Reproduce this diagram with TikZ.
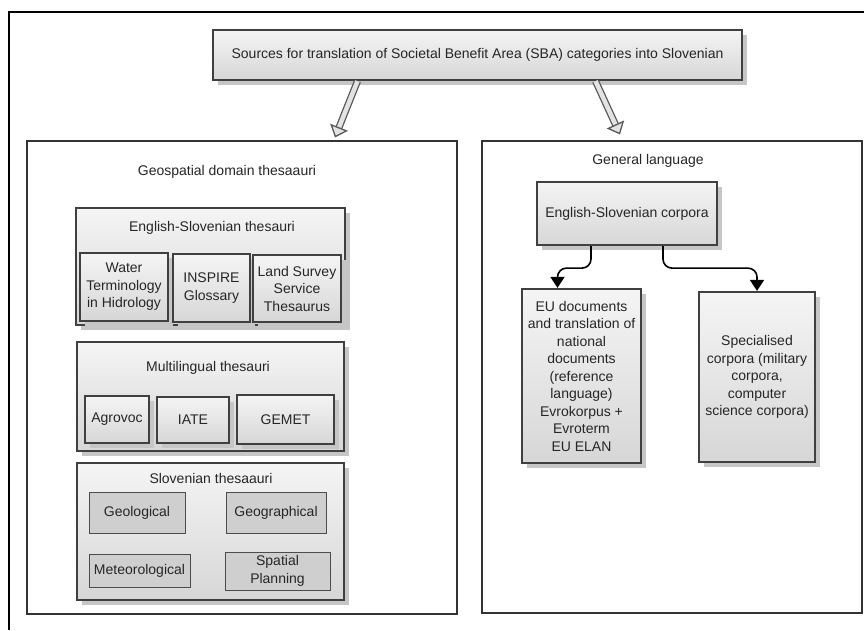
\documentclass[tikz,border=0pt]{standalone}
\usepackage{fontspec}
\setmainfont{Liberation Sans}
\usetikzlibrary{arrows.meta,shadows}
\begin{document}
\begin{tikzpicture}[x=1pt,y=-1pt,
  every node/.style={font=\fontsize{14}{17.5}\selectfont, text=black!85},
  panel/.style={draw=black!80, line width=1.1pt, fill=white},
  shadebox/.style={draw=black!75, line width=2.2pt, top color=gray!8, bottom color=gray!32,
    drop shadow={shadow xshift=5pt, shadow yshift=-5pt, fill=gray!45, opacity=1},
    align=center, inner sep=2pt},
  plainbox/.style={draw=black!70, line width=1pt, fill=gray!38, align=center, inner sep=2pt},
  hollow/.style={draw=black!65, line width=1.3pt, double=gray!22, double distance=4.5pt,
    -{Triangle[length=11pt,width=19pt,fill=gray!22]}},
  link/.style={draw=black, line width=1.6pt, rounded corners=9pt,
    -{Triangle[length=11pt,width=14pt]}}]
\useasboundingbox (0,0) rectangle (864,630);
% Rahmen
\draw[line width=2pt] (9,630) -- (9,12) -- (864,12);
% Panels
\node[panel, minimum width=430, minimum height=473] (geo) at (242,377.5) {};
\node[panel, minimum width=380, minimum height=472] (gen) at (672,377) {};
\node[shadebox, minimum width=529, minimum height=50] (title) at (477.5,55)
  {Sources for translation of Societal Benefit Area (SBA) categories into Slovenian};
% Pfeile
\draw[hollow] ([xshift=-120pt]title.south) -- ([xshift=93pt,yshift=3pt]geo.north);
\draw[hollow] ([xshift=118pt]title.south) -- ([xshift=-52pt,yshift=6pt]gen.north);
% Geospatial
\node (geohead) at (227,172) {Geospatial domain thesaauri};
\node[shadebox, minimum width=269, minimum height=117] (eng) at (210.5,266.5) {};
\node (enghead) at (212,228) {English-Slovenian thesauri};
\node[shadebox, minimum width=88, minimum height=68] (water) at (124,287) {Water\\Terminology\\in Hidrology};
\node[shadebox, minimum width=77, minimum height=68] (inspire) at (211.5,288) {INSPIRE\\Glossary};
\node[shadebox, minimum width=88, minimum height=67] (land) at (297,288.5) {Land Survey\\Service\\Thesaurus};
\node[shadebox, minimum width=267, minimum height=109] (multi) at (210.5,396.5) {};
\node (multihead) at (208,368) {Multilingual thesauri};
\node[shadebox, minimum width=64, minimum height=47] (agrovoc) at (117,419.5) {Agrovoc};
\node[shadebox, minimum width=72, minimum height=46] (iate) at (193,420) {IATE};
\node[shadebox, minimum width=97, minimum height=49] (gemet) at (285.5,419.5) {GEMET};
\node[shadebox, minimum width=267, minimum height=137] (slov) at (210.5,531.5) {};
\node (slovhead) at (211,478) {Slovenian thesaauri};
\node[plainbox, minimum width=96, minimum height=41] (geol) at (137,512.5) {Geological};
\node[plainbox, minimum width=100, minimum height=41] (geog) at (276,512.5) {Geographical};
\node[plainbox, minimum width=101, minimum height=33] (meteo) at (139.5,570.5) {Meteorological};
\node[plainbox, minimum width=105, minimum height=38] (spatial) at (277.5,571) {Spatial\\Planning};
% General language
\node (genhead) at (648,161) {General language};
\node[shadebox, minimum width=180, minimum height=63] (corp) at (627,213.5) {English-Slovenian corpora};
\node[shadebox, minimum width=119, minimum height=174] (eu) at (581.5,376)
  {EU documents\\and translation of\\national\\documents\\(reference\\language)\\Evrokorpus +\\Evroterm\\EU ELAN};
\node[shadebox, minimum width=116, minimum height=170] (spec) at (757,377)
  {Specialised\\corpora (military\\corpora,\\computer\\science corpora)};
\draw[link] ([xshift=-36pt]corp.south) -- ++(0,22) -| ([xshift=-24pt]eu.north);
\draw[link] ([xshift=36pt]corp.south) -- ++(0,22) -| (spec.north);
\end{tikzpicture}
\end{document}
